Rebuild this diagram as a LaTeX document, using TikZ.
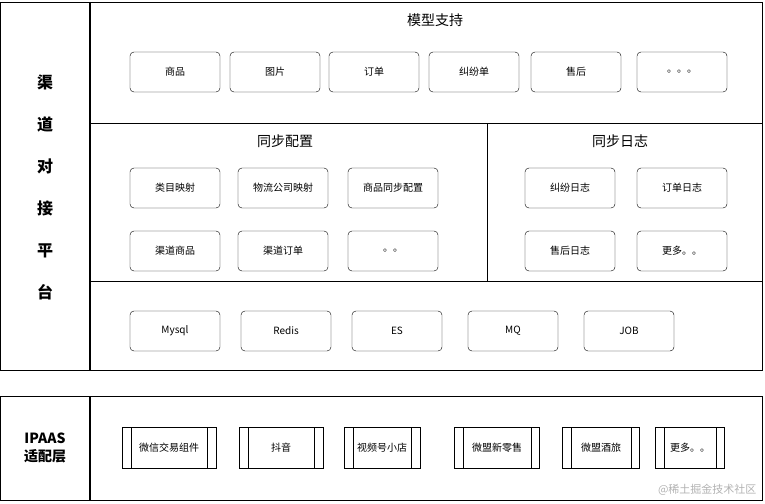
\documentclass[tikz,border=0pt]{standalone}
\usepackage{fontspec}
\setmainfont{Noto Sans CJK SC}
\usetikzlibrary{positioning}

\tikzset{
 item/.style={draw,rounded corners=4pt,minimum width=90pt,minimum height=40pt,font=\fontsize{10}{12}\selectfont},
 proc/.style={draw,minimum height=41pt,font=\fontsize{10}{12}\selectfont},
 title/.style={font=\fontsize{14}{16}\selectfont},
}

\begin{document}
\begin{tikzpicture}[x=1pt,y=-1pt]
 \useasboundingbox (0,0) rectangle (765,503);
 % top frame
 \draw[thick] (0,2) rectangle (762,370);
 \draw[line width=1.6pt] (90,2) -- (90,370);
 \draw[thick] (90,123) -- (762,123);
 \draw[thick] (90,281) -- (762,281);
 \draw[thick] (487,123) -- (487,281);
 \node[font=\fontsize{16}{42}\selectfont\bfseries,align=center,name=platform] at (45,187) {渠\\道\\对\\接\\平\\台};

 \node[title,name=model] at (435,20) {模型支持};
 \node[item,name=goods]    at (175,72) {商品};
 \node[item,name=image]    at (275,72) {图片};
 \node[item,name=order]    at (374,72) {订单};
 \node[item,name=dispute]  at (474,72) {纠纷单};
 \node[item,name=aftersale] at (576,72) {售后};
 \node[item,name=moremodel] at (682,72) {。。。};

 \node[title,name=syncconf] at (285,141) {同步配置};
 \node[item,name=catmap]   at (175,188) {类目映射};
 \node[item,name=logmap]   at (283,188) {物流公司映射};
 \node[item,name=goodsconf] at (393,188) {商品同步配置};
 \node[item,name=chgoods]  at (175,251) {渠道商品};
 \node[item,name=chorder]  at (283,251) {渠道订单};
 \node[item,name=moreconf] at (393,251) {。。};

 \node[title,name=synclog] at (620,141) {同步日志};
 \node[item,name=displog]  at (570,188) {纠纷日志};
 \node[item,name=orderlog] at (682,188) {订单日志};
 \node[item,name=salelog]  at (570,251) {售后日志};
 \node[item,name=morelog]  at (682,251) {更多。。};

 \node[item,name=mysql] at (175,331) {Mysql};
 \node[item,name=redis] at (286,331) {Redis};
 \node[item,name=es]    at (397,331) {ES};
 \node[item,name=mq]    at (513,331) {MQ};
 \node[item,name=job]   at (629,331) {JOB};

 % bottom frame
 \draw[thick] (0,396) rectangle (762,500);
 \draw[line width=1.6pt] (90,396) -- (90,500);
 \node[font=\fontsize{14}{18}\selectfont\bfseries,align=center,name=ipaas] at (45,448) {IPAAS\\适配层};

 \foreach \nm/\cx/\w/\txt in {wx/169/94/微信交易组件, dy/281/84/抖音, sph/382/76/视频号小店,
   wmls/497/85/微盟新零售, wmjl/601/77/微盟酒旅, moreadp/690/69/更多。。}{
   \node[proc,minimum width=\w pt,name=\nm] at (\cx,448) {\txt};
   \draw ([xshift=9pt]\nm.north west) -- ([xshift=9pt]\nm.south west);
   \draw ([xshift=-9pt]\nm.north east) -- ([xshift=-9pt]\nm.south east);
 }

 \node[text=gray!60,font=\fontsize{11}{13}\selectfont,anchor=east,name=mark] at (760,490) {@稀土掘金技术社区};
\end{tikzpicture}
\end{document}
